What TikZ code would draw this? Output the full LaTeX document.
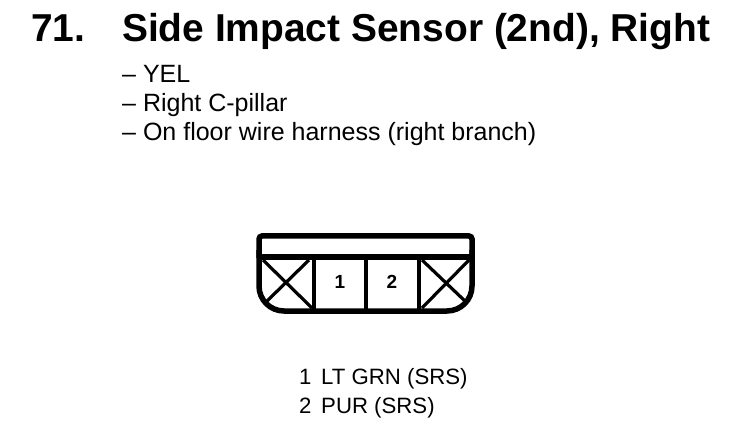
\documentclass[tikz,border=0pt]{standalone}
\usepackage{fontspec}
\setmainfont{Liberation Sans}
\tikzset{thick line/.style = {line width=5.5pt}}
\tikzset{thin line/.style = {line width=4.6pt}}
\tikzset{cross line/.style = {line width=3.2pt}}
\tikzset{body text/.style = {anchor=base west, inner sep=0, font=\fontsize{25}{28}\selectfont}}
\tikzset{wire text/.style = {anchor=base west, inner sep=0, font=\fontsize{22.2}{25}\selectfont}}
\tikzset{pin text/.style = {anchor=base, inner sep=0, font=\fontsize{19}{22}\bfseries\selectfont}}
\tikzset{title text/.style = {anchor=base west, inner sep=0, font=\fontsize{38.9}{44}\bfseries\selectfont}}
\begin{document}
\begin{tikzpicture}[x=1pt,y=-1pt]
            \useasboundingbox (0,0) rectangle (752,430);
            \node [title text] (num) at (31,42) {71.};
            \node [title text] (title) at (122,42) {Side Impact Sensor (2nd), Right};
            \node [body text] (colour) at (122,83) {-- YEL};
            \node [body text] (place) at (122,112) {-- Right C-pillar};
            \node [body text] (harness) at (122,141) {-- On floor wire harness (right branch)};
            \draw [cross line] (263,260)--(312,308);
            \draw [cross line] (309,260)--(266,302);
            \draw [cross line] (422,260)--(466,302);
            \draw [cross line] (469,260)--(422,308);
            \draw [thick line] (259,257)--(472,257);
            \draw [thick line, rounded corners=25pt] (259,250)--(259,311)--(472,311)--(472,250);
            \draw [thick line, rounded corners=3pt] (259,258)--(259,236)--(472,236)--(472,258);
            \draw [thin line] (314,258)--(314,311);
            \draw [thin line] (366,258)--(366,311);
            \draw [thin line] (419,258)--(419,311);
            \node [pin text] (p1) at (340,289) {1};
            \node [pin text] (p2) at (392,289) {2};
            \node [wire text] (w1) at (299,384) {1};
            \node [wire text] (n1) at (321,384) {LT GRN (SRS)};
            \node [wire text] (w2) at (299,413) {2};
            \node [wire text] (n2) at (321,413) {PUR (SRS)};
        \end{tikzpicture}
\end{document}
